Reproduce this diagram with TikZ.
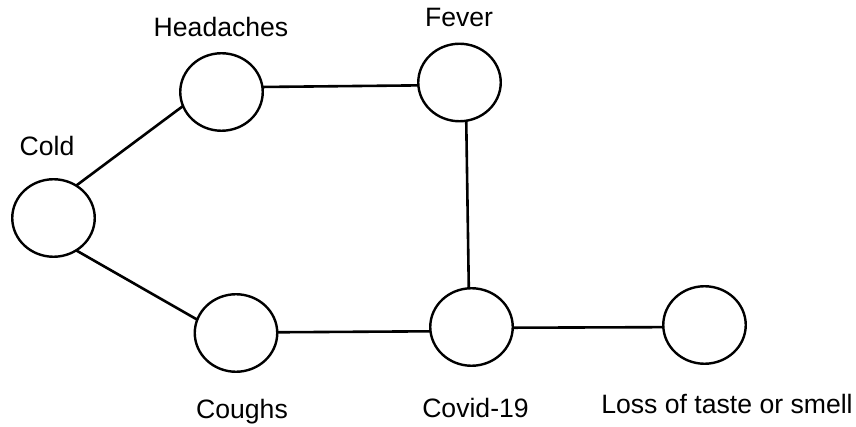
\documentclass[tikz,border=0pt]{standalone}
\usepackage{fontspec}
\setmainfont{Liberation Sans}
\usetikzlibrary{shapes.geometric}
\begin{document}
\begin{tikzpicture}[x=1pt,y=-1pt,
  sym/.style={ellipse,draw=black,line width=2.4pt,minimum width=82.5pt,minimum height=77.5pt,inner sep=0pt,outer sep=0pt},
  lbl/.style={anchor=base,inner sep=0pt,font=\fontsize{26.6}{31}\selectfont},
  edge/.style={draw=black,line width=2.6pt}]
\useasboundingbox (0,0) rectangle (856,427);
\fill[white] (0,0) rectangle (856,427);
\node[sym] (cold) at (53.5,218) {};
\node[sym] (head) at (221.5,92) {};
\node[sym] (fever) at (459.5,82.5) {};
\node[sym] (cough) at (236,333) {};
\node[sym] (covid) at (471.5,327) {};
\node[sym] (loss) at (704.5,325) {};
\node[lbl] (tcold) at (47,156) {Cold};
\node[lbl] (thead) at (221,37) {Headaches};
\node[lbl] (tfever) at (459,27) {Fever};
\node[lbl] (tcough) at (242,418) {Coughs};
\node[lbl] (tcovid) at (475.5,417) {Covid-19};
\node[lbl] (tloss) at (727,413) {Loss of taste or smell};
\draw[edge] (cold.55) -- (head.200);
\draw[edge] (cold.-55) -- (cough.161);
\draw[edge] (head.7) -- (fever.184);
\draw[edge] (fever.-80) -- (covid.94);
\draw[edge] (cough.1) -- (covid.186);
\draw[edge] (covid.-1) -- (loss.183);
\end{tikzpicture}
\end{document}
